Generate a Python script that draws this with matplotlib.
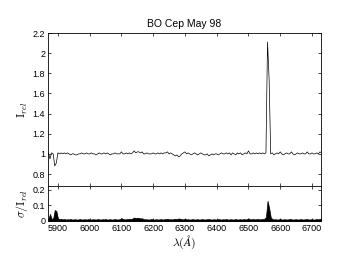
import numpy as np
import matplotlib
matplotlib.use('Agg')
import matplotlib.pyplot as plt
from matplotlib.ticker import FormatStrFormatter

plt.rcParams['font.family'] = ['Liberation Sans', 'DejaVu Sans']
plt.rcParams['mathtext.fontset'] = 'cm'

# wavelength grid, 5 A steps
wavelength = np.arange(5870, 6731, 5)

flux = [
    1.01, 0.95, 1.01, 1.00, 0.88, 0.91, 1.01, 1.00, 1.01, 1.00,
    1.01, 1.00, 1.01, 1.00, 0.99, 1.00, 1.00, 0.99, 0.99, 1.00,
    1.00, 1.01, 1.00, 1.00, 1.01, 1.00, 1.00, 1.01, 1.00, 1.00,
    0.99, 1.00, 1.01, 1.00, 1.00, 1.01, 1.00, 1.01, 1.00, 0.99,
    1.00, 1.00, 1.01, 1.00, 1.00, 1.00, 1.02, 1.00, 1.00, 1.01,
    1.00, 1.01, 1.00, 1.01, 1.03, 1.01, 1.02, 1.02, 1.01, 1.02,
    1.00, 1.00, 1.01, 1.00, 1.00, 1.00, 1.01, 1.00, 1.00, 1.01,
    1.00, 1.01, 1.00, 1.01, 1.01, 1.02, 1.00, 1.01, 1.00, 0.99,
    0.98, 0.99, 0.97, 0.98, 1.00, 1.01, 1.02, 1.00, 1.01, 1.00,
    0.99, 1.00, 1.01, 1.00, 0.99, 1.00, 1.01, 1.00, 0.99, 0.99,
    1.00, 0.98, 0.99, 1.00, 0.99, 1.00, 1.00, 0.99, 1.00, 1.01,
    1.00, 1.00, 1.01, 1.00, 1.01, 0.99, 1.01, 1.00, 0.99, 1.01,
    1.00, 1.01, 0.99, 1.00, 1.01, 1.00, 1.03, 1.00, 1.00, 1.01,
    1.00, 1.01, 1.00, 1.01, 1.00, 1.01, 1.00, 1.01, 2.11, 1.74,
    1.00, 1.01, 0.99, 1.00, 1.01, 1.00, 1.02, 1.00, 0.99, 1.00,
    1.01, 1.00, 1.00, 1.02, 1.00, 0.99, 1.00, 1.01, 1.00, 1.00,
    1.01, 1.00, 1.00, 1.02, 1.00, 1.00, 1.01, 1.00, 1.00, 1.01,
    1.00, 1.02, 1.01,
]

sigma = [
    0.012, 0.045, 0.014, 0.016, 0.070, 0.065, 0.016, 0.012, 0.014, 0.010,
    0.012, 0.009, 0.011, 0.010, 0.012, 0.009, 0.010, 0.011, 0.009, 0.010,
    0.012, 0.009, 0.010, 0.011, 0.009, 0.012, 0.010, 0.009, 0.011, 0.010,
    0.009, 0.012, 0.010, 0.009, 0.011, 0.010, 0.012, 0.009, 0.010, 0.011,
    0.009, 0.010, 0.012, 0.009, 0.010, 0.011, 0.018, 0.012, 0.010, 0.011,
    0.012, 0.014, 0.012, 0.016, 0.022, 0.018, 0.021, 0.019, 0.016, 0.017,
    0.012, 0.010, 0.011, 0.009, 0.010, 0.012, 0.009, 0.010, 0.011, 0.009,
    0.010, 0.012, 0.009, 0.011, 0.012, 0.014, 0.010, 0.011, 0.010, 0.012,
    0.014, 0.012, 0.016, 0.014, 0.011, 0.010, 0.014, 0.010, 0.011, 0.009,
    0.010, 0.012, 0.009, 0.010, 0.011, 0.009, 0.010, 0.012, 0.009, 0.010,
    0.011, 0.012, 0.010, 0.009, 0.011, 0.010, 0.009, 0.012, 0.010, 0.009,
    0.011, 0.010, 0.012, 0.009, 0.010, 0.011, 0.009, 0.010, 0.012, 0.009,
    0.010, 0.011, 0.009, 0.012, 0.010, 0.011, 0.016, 0.010, 0.011, 0.012,
    0.010, 0.011, 0.012, 0.010, 0.011, 0.012, 0.014, 0.024, 0.130, 0.085,
    0.024, 0.012, 0.010, 0.011, 0.009, 0.010, 0.012, 0.009, 0.010, 0.011,
    0.009, 0.010, 0.012, 0.011, 0.009, 0.010, 0.011, 0.009, 0.010, 0.012,
    0.009, 0.010, 0.011, 0.012, 0.009, 0.010, 0.011, 0.009, 0.010, 0.012,
    0.010, 0.014, 0.012,
]

fig = plt.figure(figsize=(3.41, 2.56), dpi=100)
ax1 = fig.add_axes([0.141, 0.273, 0.8, 0.598])
ax2 = fig.add_axes([0.141, 0.137, 0.8, 0.136])

ax1.plot(wavelength, flux, color='k', lw=0.5)
ax1.set_xlim(5869, 6728)
ax1.set_ylim(0.68, 2.2)
ax1.set_yticks([0.8, 1.0, 1.2, 1.4, 1.6, 1.8, 2.0, 2.2])
ax1.yaxis.set_major_formatter(FormatStrFormatter('%g'))
ax1.set_xticks(range(5900, 6701, 100))
ax1.set_xticklabels([])
ax1.set_ylabel(r'$\mathrm{I}_{rel}$', fontsize=8.5, labelpad=2)
ax1.set_title('BO Cep May 98', fontsize=7.5, pad=4)

ax2.fill_between(wavelength, sigma, color='k', lw=0.5)
ax2.set_xlim(5869, 6728)
ax2.set_ylim(0, 0.225)
ax2.set_yticks([0, 0.1, 0.2])
ax2.yaxis.set_major_formatter(FormatStrFormatter('%g'))
ax2.set_xticks(range(5900, 6701, 100))
ax2.set_xlabel(r'$\lambda(\AA)$', fontsize=8.5, labelpad=1)
ax2.set_ylabel(r'$\sigma/\mathrm{I}_{rel}$', fontsize=8.5, labelpad=2)

for ax in (ax1, ax2):
    ax.tick_params(direction='in', length=2.5, width=0.5, labelsize=6.5,
                   top=True, right=True, pad=2)
    for s in ax.spines.values():
        s.set_linewidth(0.6)

fig.savefig('out.png', dpi=100)
